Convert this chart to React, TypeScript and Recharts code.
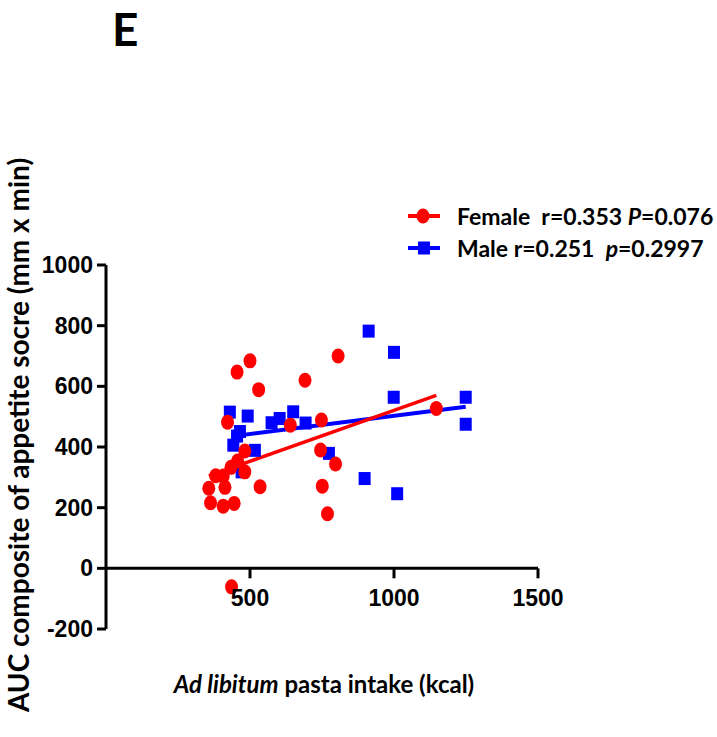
import React from 'react';
import { ComposedChart, Scatter, XAxis, YAxis, ReferenceLine } from 'recharts';

// Female: [pasta intake (kcal), AUC appetite score]
const femaleX = [422, 455, 500, 530, 691, 640, 806, 748, 745, 797, 751, 769, 1147, 436, 482, 457, 434, 482, 381, 407, 357, 413, 535, 363, 407, 445];
const femaleY = [482, 647, 684, 589, 620, 472, 700, 489, 390, 344, 271, 180, 527, -61, 387, 354, 333, 318, 305, 304, 264, 267, 269, 216, 205, 214];

const maleX = [430, 492, 575, 603, 650, 693, 465, 455, 442, 517, 471, 774, 898, 1011, 912, 1000, 999, 1249, 1249];
const maleY = [515, 502, 480, 494, 516, 479, 451, 436, 406, 389, 318, 379, 296, 246, 782, 712, 564, 564, 475];

// regression line end points
const femaleFitX = [357, 1147];
const femaleFitY = [305, 570];
const maleFitX = [435, 1249];
const maleFitY = [435, 533];

const xTicks = [500, 1000, 1500];
const yTicks = [-200, 0, 200, 400, 600, 800, 1000];

const female = femaleX.map((x, i) => ({ x, y: femaleY[i] }));
const male = maleX.map((x, i) => ({ x, y: maleY[i] }));
const femaleFit = femaleFitX.map((x, i) => ({ x, y: femaleFitY[i] }));
const maleFit = maleFitX.map((x, i) => ({ x, y: maleFitY[i] }));

const RED = '#ff0000';
const BLUE = '#0000ff';
const NUM = '"Liberation Sans", Arial, sans-serif';
const TITLE = 'Lato, "Open Sans", sans-serif';

const Circ = (p: any) => <ellipse cx={p.cx} cy={p.cy} rx={6.5} ry={7.5} fill={RED} />;
const Sq = (p: any) => <rect x={p.cx - 6} y={p.cy - 6.5} width={12} height={13} fill={BLUE} />;

const LegendBox = () => (
  <div style={{ position: 'absolute', left: 405, top: 200, fontFamily: TITLE, fontWeight: 700, fontSize: 23, color: '#000', lineHeight: '32px' }}>
    <div style={{ display: 'flex', alignItems: 'center', whiteSpace: 'pre' }}>
      <svg width={52} height={32}>
        <line x1={3} x2={35} y1={16} y2={16} stroke={RED} strokeWidth={4} />
        <ellipse cx={18} cy={16} rx={6.5} ry={7.5} fill={RED} />
      </svg>
      <span>Female  r=0.353 <i>P</i>=0.076</span>
    </div>
    <div style={{ display: 'flex', alignItems: 'center', whiteSpace: 'pre' }}>
      <svg width={52} height={32}>
        <line x1={3} x2={35} y1={16} y2={16} stroke={BLUE} strokeWidth={4} />
        <rect x={13} y={9.5} width={12} height={13} fill={BLUE} />
      </svg>
      <span>Male r=0.251  <i>p</i>=0.2997</span>
    </div>
  </div>
);

export default function App() {
  return (
    <div style={{ position: 'absolute', left: 0, top: 0, width: 717, height: 737, background: '#fff' }}>
      <ComposedChart width={717} height={737} margin={{ top: 265, right: 179, bottom: 108, left: 46 }}>
        <XAxis type="number" dataKey="x" domain={[0, 1500]} ticks={xTicks} hide />
        <YAxis
          type="number"
          dataKey="y"
          domain={[-200, 1000]}
          ticks={yTicks}
          width={60}
          interval={0}
          axisLine={{ stroke: '#000', strokeWidth: 3 }}
          tickLine={{ stroke: '#000', strokeWidth: 3 }}
          tickSize={9}
          tickMargin={4}
          tick={{ fill: '#000', fontSize: 23, fontWeight: 700, fontFamily: NUM }}
        />
        <ReferenceLine segment={[{ x: 0, y: 0 }, { x: 1500, y: 0 }]} stroke="#000" strokeWidth={3} ifOverflow="visible" />
        {xTicks.map((t) => (
          <ReferenceLine
            key={t}
            segment={[{ x: t, y: 0 }, { x: t, y: -33 }]}
            stroke="#000"
            strokeWidth={3}
            ifOverflow="visible"
            label={{ value: String(t), position: 'bottom', offset: 11, fill: '#000', fontSize: 23, fontWeight: 700, fontFamily: NUM }}
          />
        ))}
        <Scatter data={male} shape={Sq} isAnimationActive={false} />
        <ReferenceLine segment={maleFit} stroke={BLUE} strokeWidth={4} ifOverflow="visible" />
        <Scatter data={female} shape={Circ} isAnimationActive={false} />
        <ReferenceLine segment={femaleFit} stroke={RED} strokeWidth={3.5} ifOverflow="visible" />
      </ComposedChart>
      <LegendBox />
      <svg width={717} height={737} style={{ position: 'absolute', left: 0, top: 0, pointerEvents: 'none' }}>
        <text x={112} y={46} fontFamily={TITLE} fontWeight={700} fontSize={46} fill="#000">E</text>
        <text x={324} y={693} textAnchor="middle" fontFamily={TITLE} fontWeight={700} fontSize={24} fill="#000">
          <tspan fontStyle="italic">Ad libitum</tspan> pasta intake (kcal)
        </text>
        <text transform="translate(29,435) rotate(-90)" textAnchor="middle" fontFamily={TITLE} fontWeight={700} fontSize={28} fill="#000">
          AUC composite of appetite socre (mm x min)
        </text>
      </svg>
    </div>
  );
}
